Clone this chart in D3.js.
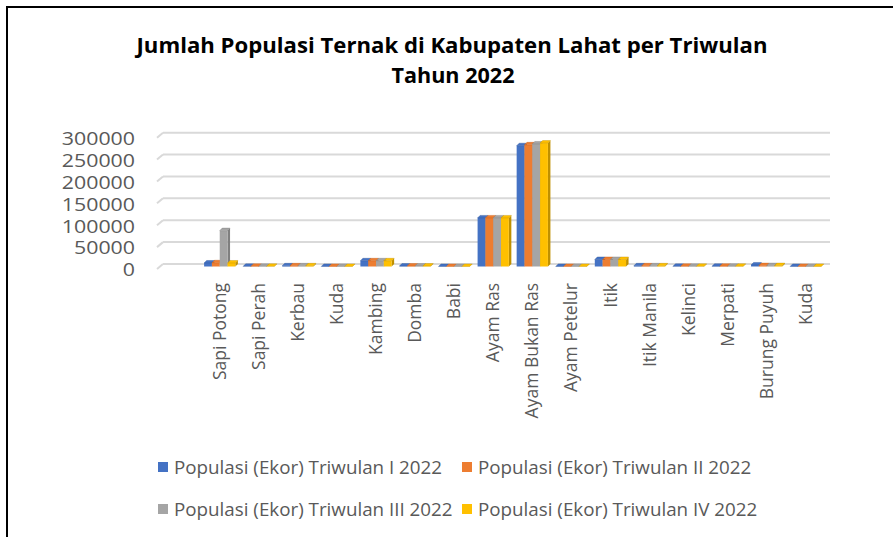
<!DOCTYPE html>
<html>
<head>
<meta charset="utf-8">
<title>Populasi Ternak Lahat 2022</title>
<style>
  body { margin: 0; background: #fff; }
  text { font-family: "Open Sans", sans-serif; fill: #595959; }
  .title text { font-weight: bold; fill: #000; }
  .grid line { stroke: #d9d9d9; stroke-width: 2; }
</style>
</head>
<body>
<svg width="893" height="537"></svg>
<script src="https://d3js.org/d3.v7.min.js"></script>
<script>
// data
var categories = ["Sapi Potong", "Sapi Perah", "Kerbau", "Kuda", "Kambing", "Domba", "Babi",
  "Ayam Ras", "Ayam Bukan Ras", "Ayam Petelur", "Itik", "Itik Manila", "Kelinci", "Merpati",
  "Burung Puyuh", "Kuda "];
var triwulan1 = [8000, 300, 1500, 200, 13000, 1000, 100, 111000, 276000, 200, 16000, 1500, 300, 500, 3500, 200];
var triwulan2 = [8500, 300, 1500, 200, 13000, 1000, 100, 111000, 278000, 200, 16000, 1500, 300, 500, 2000, 200];
var triwulan3 = [82000, 300, 1500, 200, 13000, 1000, 100, 111000, 280000, 200, 16000, 1500, 300, 500, 2000, 200];
var triwulan4 = [8000, 300, 1500, 200, 13000, 1000, 100, 111000, 282000, 200, 16000, 1500, 300, 500, 2000, 200];
var seriesNames = ["Populasi (Ekor) Triwulan I 2022", "Populasi (Ekor) Triwulan II 2022",
  "Populasi (Ekor) Triwulan III 2022", "Populasi (Ekor) Triwulan IV 2022"];
var yTicks = [0, 50000, 100000, 150000, 200000, 250000, 300000];

var seriesValues = [triwulan1, triwulan2, triwulan3, triwulan4];
var colors = ["#4472c4", "#ed7d31", "#a5a5a5", "#ffc000"];
var sideColors = ["#2f5597", "#c55a11", "#7f7f7f", "#bf9000"];

var svg = d3.select("svg");

// frame
svg.append("line").attr("x1", 7).attr("y1", 7).attr("x2", 893).attr("y2", 7)
  .attr("stroke", "#000").attr("stroke-width", 2);
svg.append("line").attr("x1", 7).attr("y1", 6).attr("x2", 7).attr("y2", 537)
  .attr("stroke", "#000").attr("stroke-width", 2);

// title
var title = svg.append("g").attr("class", "title");
title.append("text").attr("x", 452).attr("y", 53).attr("text-anchor", "middle")
  .style("font-size", "21px")
  .attr("textLength", 631).attr("lengthAdjust", "spacingAndGlyphs")
  .text("Jumlah Populasi Ternak di Kabupaten Lahat per Triwulan");
title.append("text").attr("x", 453).attr("y", 83).attr("text-anchor", "middle")
  .style("font-size", "21px")
  .attr("textLength", 123).attr("lengthAdjust", "spacingAndGlyphs")
  .text("Tahun 2022");

// scales
var y = d3.scaleLinear().domain([0, 300000]).range([264, 132.7]);
var x = d3.scaleBand().domain(d3.range(categories.length)).range([200.2, 825.3])
  .paddingInner(0.2).paddingOuter(0.1);
var xs = d3.scaleBand().domain(d3.range(seriesNames.length)).range([0, x.bandwidth()]);

var depth = 2.5;   // 3d offset of bar tops / sides
var shift = 2.5;   // bars sit a bit in front of the back wall

// gridlines on back wall + side wall slant
var grid = svg.append("g").attr("class", "grid");
yTicks.forEach(function(t) {
  grid.append("line").attr("x1", 163).attr("x2", 830).attr("y1", y(t)).attr("y2", y(t));
  grid.append("line").attr("x1", 157).attr("x2", 163).attr("y1", y(t) + 5).attr("y2", y(t));
});

// y labels
var yAxis = svg.append("g");
yTicks.forEach(function(t) {
  yAxis.append("text").attr("x", 135).attr("y", y(t) + 6).attr("dy", "0.35em")
    .attr("text-anchor", "end").style("font-size", "18px")
    .attr("textLength", String(t).length * 12.2).attr("lengthAdjust", "spacingAndGlyphs")
    .text(t);
});

// bars
var bars = svg.append("g");
categories.forEach(function(c, i) {
  seriesValues.forEach(function(vals, s) {
    var x0 = x(i) + xs(s), w = xs.bandwidth();
    var yb = y(0) + shift, yt = y(vals[i]) + shift;
    var g = bars.append("g");
    // side face
    g.append("path")
      .attr("d", "M" + (x0 + w) + "," + yb + "L" + (x0 + w + depth) + "," + (yb - depth) +
        "L" + (x0 + w + depth) + "," + (yt - depth) + "L" + (x0 + w) + "," + yt + "Z")
      .attr("fill", sideColors[s]);
    // front face
    g.append("rect").attr("x", x0).attr("y", yt).attr("width", w).attr("height", yb - yt)
      .attr("fill", colors[s]);
    // top face
    g.append("path")
      .attr("d", "M" + x0 + "," + yt + "L" + (x0 + depth) + "," + (yt - depth) +
        "L" + (x0 + w + depth) + "," + (yt - depth) + "L" + (x0 + w) + "," + yt + "Z")
      .attr("fill", colors[s]).attr("stroke", sideColors[s]).attr("stroke-width", 0.4);
  });
});

// category labels
var xAxis = svg.append("g");
categories.forEach(function(c, i) {
  var cx = x(i) + x.bandwidth() / 2;
  xAxis.append("text")
    .attr("transform", "translate(" + cx + ",283) rotate(-90)")
    .attr("dy", "0.35em").attr("text-anchor", "end")
    .style("font-size", "17.5px")
    .text(c.trim());
});

// legend
var legendPos = [[158, 467], [462, 467], [158, 509], [462, 509]];
var legend = svg.append("g").selectAll("g")
  .data(seriesNames)
  .enter().append("g")
  .attr("transform", function(d, i) { return "translate(" + legendPos[i][0] + "," + legendPos[i][1] + ")"; });
legend.append("rect").attr("x", 0).attr("y", -5).attr("width", 10).attr("height", 10)
  .attr("fill", function(d, i) { return colors[i]; });
legend.append("text").attr("x", 16).attr("y", 0).attr("dy", "0.35em")
  .style("font-size", "18.8px")
  .text(function(d) { return d; });
</script>
</body>
</html>
